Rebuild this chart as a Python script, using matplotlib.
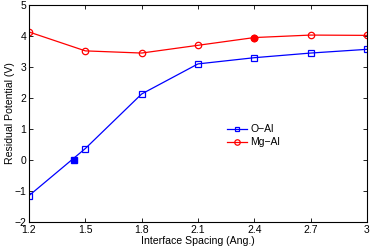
import matplotlib
matplotlib.use("Agg")
import matplotlib.pyplot as plt

spacing = [1.2, 1.5, 1.8, 2.1, 2.4, 2.7, 3.0]
o_al = [-1.15, 0.37, 2.13, 3.10, 3.30, 3.45, 3.57]
mg_al = [4.13, 3.52, 3.45, 3.70, 3.95, 4.03, 4.02]
o_al_filled = ([1.44], [0.0])
mg_al_filled = ([2.4], [3.95])
xticks = [1.2, 1.5, 1.8, 2.1, 2.4, 2.7, 3.0]
xticklabels = ["1.2", "1.5", "1.8", "2.1", "2.4", "2.7", "3"]
yticks = [-2, -1, 0, 1, 2, 3, 4, 5]

plt.rcParams['font.family'] = ['Liberation Sans', 'DejaVu Sans']
fig = plt.figure(figsize=(3.74, 2.49), dpi=100)
ax = fig.add_axes([29/374, 1 - 222/249, (367-29)/374, (222-5)/249])

ax.plot(spacing, o_al, color='blue', lw=0.9, marker='s', ms=3.8, mfc='none', mec='blue', mew=0.9, label='O\u2212Al')
ax.plot(spacing, mg_al, color='red', lw=0.9, marker='o', ms=4.6, mfc='none', mec='red', mew=0.9, label='Mg\u2212Al')
ax.plot(*o_al_filled, ls='none', marker='s', ms=3.8, color='blue')
ax.plot(*mg_al_filled, ls='none', marker='o', ms=4.6, color='red')

ax.set_xlim(1.2, 3.0)
ax.set_ylim(-2, 5)
ax.set_xticks(xticks)
ax.set_xticklabels(xticklabels)
ax.set_yticks(yticks)
ax.set_yticklabels([str(v).replace('-', '\u2212') for v in yticks])
ax.tick_params(direction='in', top=True, right=True, labelsize=7.5, length=3, width=0.6, pad=2)
for s in ax.spines.values():
    s.set_linewidth(0.8)
ax.set_xlabel('Interface Spacing (Ang.)', fontsize=7.6)
ax.set_ylabel('Residual Potential (V)', fontsize=7.6)
ax.xaxis.set_label_coords(0.5, -0.066)
ax.yaxis.set_label_coords(-0.042, 0.5)

ax.legend(loc='upper left', bbox_to_anchor=(0.572, 0.47), frameon=False, fontsize=7.5,
          handlelength=2.0, handletextpad=0.3, labelspacing=0.3, borderaxespad=0,
          markerscale=0.85)

fig.savefig('out.png', dpi=100)
